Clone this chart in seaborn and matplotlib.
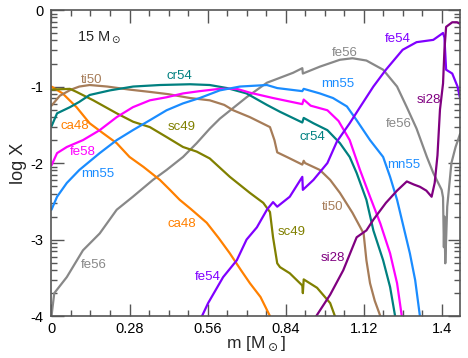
import numpy as np
import pandas as pd
import matplotlib
matplotlib.use("Agg")
import matplotlib.pyplot as plt
import seaborn as sns
from matplotlib.ticker import FixedLocator, MultipleLocator

# mass coordinate (Msun) and log mass fraction for each isotope
ca48_m = [0, 0.04, 0.09, 0.137, 0.185, 0.234, 0.28, 0.33, 0.389, 0.425, 0.46, 0.5, 0.557, 0.6, 0.64, 0.68, 0.712, 0.75, 0.784]
ca48_x = [-1.0, -1.09, -1.27, -1.48, -1.61, -1.74, -1.92, -2.05, -2.22, -2.35, -2.48, -2.6, -2.78, -2.98, -3.18, -3.4, -3.57, -3.75, -4.0]

ti50_m = [0, 0.03, 0.07, 0.1, 0.137, 0.2, 0.28, 0.353, 0.42, 0.497, 0.568, 0.62, 0.652, 0.712, 0.784, 0.8, 0.81, 0.85, 0.9, 0.905, 0.91, 0.963, 1.0, 1.035, 1.08, 1.12, 1.13, 1.143, 1.16, 1.18]
ti50_x = [-1.25, -1.12, -1.04, -1.0, -0.98, -1.0, -1.04, -1.07, -1.1, -1.15, -1.18, -1.24, -1.31, -1.4, -1.53, -1.7, -1.86, -1.93, -2.02, -1.97, -2.0, -2.09, -2.22, -2.39, -2.65, -2.92, -3.27, -3.57, -3.8, -4.0]

cr54_m = [0, 0.02, 0.066, 0.1, 0.137, 0.21, 0.293, 0.389, 0.497, 0.568, 0.63, 0.70, 0.773, 0.82, 0.9, 0.905, 0.94, 0.99, 1.035, 1.07, 1.095, 1.13, 1.155, 1.19, 1.215, 1.233]
cr54_x = [-1.52, -1.35, -1.27, -1.2, -1.11, -1.05, -1.0, -0.98, -0.97, -0.98, -1.02, -1.09, -1.24, -1.33, -1.47, -1.41, -1.48, -1.57, -1.74, -1.92, -2.13, -2.48, -2.88, -3.27, -3.62, -4.0]

fe58_m = [0, 0.02, 0.055, 0.113, 0.173, 0.234, 0.292, 0.353, 0.413, 0.472, 0.532, 0.604, 0.665, 0.712, 0.795, 0.9, 0.905, 0.93, 0.99, 1.03, 1.07, 1.107, 1.143, 1.18, 1.215, 1.24, 1.257]
fe58_x = [-2.03, -1.87, -1.79, -1.7, -1.57, -1.4, -1.27, -1.18, -1.14, -1.09, -1.06, -1.03, -1.03, -1.08, -1.15, -1.23, -1.17, -1.25, -1.31, -1.45, -1.7, -2.09, -2.44, -2.79, -3.18, -3.57, -4.0]

mn55_m = [0, 0.02, 0.055, 0.1, 0.173, 0.234, 0.292, 0.353, 0.413, 0.472, 0.532, 0.604, 0.676, 0.773, 0.81, 0.9, 0.905, 0.963, 1.01, 1.06, 1.095, 1.143, 1.19, 1.215, 1.24, 1.263, 1.286, 1.305, 1.322]
mn55_x = [-2.61, -2.44, -2.26, -2.09, -1.87, -1.7, -1.57, -1.44, -1.31, -1.22, -1.15, -1.05, -1.0, -0.98, -1.02, -1.06, -1.03, -1.09, -1.15, -1.26, -1.44, -1.7, -1.92, -2.18, -2.48, -2.83, -3.18, -3.53, -4.0]

sc49_m = [0, 0.066, 0.09, 0.15, 0.234, 0.293, 0.353, 0.413, 0.472, 0.521, 0.568, 0.64, 0.712, 0.76, 0.784, 0.795, 0.81, 0.82, 0.855, 0.9, 0.902, 0.905, 0.953, 1.0, 1.017]
sc49_x = [-1.04, -1.03, -1.07, -1.18, -1.35, -1.46, -1.53, -1.66, -1.79, -1.85, -1.94, -2.18, -2.39, -2.52, -2.64, -2.97, -3.31, -3.36, -3.44, -3.6, -3.7, -3.52, -3.63, -3.83, -4.0]

fe54_m = [0.54, 0.562, 0.616, 0.665, 0.70, 0.737, 0.773, 0.795, 0.81, 0.855, 0.9, 0.902, 0.94, 0.99, 1.024, 1.07, 1.107, 1.155, 1.2, 1.26, 1.31, 1.37, 1.405, 1.41, 1.416, 1.438, 1.457, 1.466]
fe54_x = [-4.0, -3.83, -3.49, -3.27, -3.0, -2.84, -2.61, -2.51, -2.57, -2.44, -2.18, -2.35, -2.22, -2.0, -1.72, -1.48, -1.27, -1.0, -0.78, -0.52, -0.42, -0.39, -0.3, -0.36, -0.78, -0.83, -1.0, -1.15]

si28_m = [0.95, 1.0, 1.047, 1.095, 1.13, 1.155, 1.2, 1.24, 1.275, 1.3, 1.322, 1.345, 1.364, 1.375, 1.385, 1.394, 1.405, 1.41, 1.416, 1.438, 1.455, 1.466]
si28_x = [-4.0, -3.72, -3.4, -2.97, -2.88, -2.74, -2.52, -2.36, -2.24, -2.28, -2.31, -2.36, -2.44, -2.26, -1.9, -1.3, -0.96, -0.52, -0.22, -0.16, -0.16, -0.18]

fe56_m = [0, 0.01, 0.055, 0.113, 0.173, 0.234, 0.292, 0.364, 0.413, 0.472, 0.521, 0.568, 0.604, 0.70, 0.773, 0.795, 0.867, 0.9, 0.902, 0.963, 1.035, 1.08, 1.13, 1.19, 1.24, 1.275, 1.31, 1.347, 1.37, 1.40, 1.405, 1.408, 1.41, 1.413, 1.416, 1.42, 1.435, 1.45, 1.466]
fe56_x = [-4.0, -3.7, -3.49, -3.14, -2.92, -2.61, -2.44, -2.22, -2.09, -1.92, -1.74, -1.55, -1.42, -1.14, -0.95, -0.92, -0.82, -0.76, -0.83, -0.74, -0.65, -0.63, -0.66, -0.78, -1.0, -1.27, -1.55, -1.92, -2.13, -2.35, -2.45, -3.1, -2.7, -3.31, -3.0, -2.57, -2.0, -1.79, -1.62]

colors = {
    "ca48": "#ff8000", "ti50": "#a67c58", "cr54": "#008080", "fe58": "#ff00ff",
    "mn55": "#1a8cff", "sc49": "#808000", "fe54": "#8000ff", "si28": "#800080",
    "fe56": "#888888",
}

series = {
    "fe56": (fe56_m, fe56_x), "ca48": (ca48_m, ca48_x), "ti50": (ti50_m, ti50_x),
    "sc49": (sc49_m, sc49_x), "cr54": (cr54_m, cr54_x), "fe58": (fe58_m, fe58_x),
    "mn55": (mn55_m, mn55_x), "fe54": (fe54_m, fe54_x), "si28": (si28_m, si28_x),
}
df = pd.concat(
    [pd.DataFrame({"m": m, "logX": x, "iso": k}) for k, (m, x) in series.items()],
    ignore_index=True,
)

# labels: (name, m, logX)
labels = [
    ("ti50", 0.145, -0.92), ("cr54", 0.46, -0.86), ("ca48", 0.084, -1.52),
    ("sc49", 0.467, -1.53), ("fe58", 0.113, -1.85), ("mn55", 0.167, -2.14),
    ("ca48", 0.467, -2.8), ("fe56", 0.153, -3.33), ("fe54", 0.562, -3.49),
    ("sc49", 0.863, -2.9), ("ti50", 1.01, -2.57), ("si28", 1.01, -3.24),
    ("fe56", 1.053, -0.56), ("mn55", 1.028, -0.97), ("cr54", 0.935, -1.66),
    ("fe54", 1.243, -0.38), ("si28", 1.354, -1.17), ("fe56", 1.247, -1.49),
    ("mn55", 1.265, -2.03),
]

sns.set_theme(style="ticks")
plt.rcParams["font.family"] = ["Liberation Sans", "DejaVu Sans"]
plt.rcParams["axes.unicode_minus"] = False

fig = plt.figure(figsize=(4.68, 3.58), dpi=100)
ax = fig.add_axes([0.110, 0.117, 0.873, 0.855])

sns.lineplot(data=df, x="m", y="logX", hue="iso", palette=colors,
             estimator=None, sort=False, linewidth=1.6, legend=False, ax=ax)

for name, xm, yl in labels:
    ax.text(xm, yl, name, color=colors[name], fontsize=9.5, ha="center", va="center")
ax.text(0.09, -0.35, r"15 M$_\odot$", fontsize=10.5, ha="left", va="center")

ax.set_xlim(0, 1.466)
ax.set_ylim(-4, 0)
ax.xaxis.set_major_locator(FixedLocator([0, 0.28, 0.56, 0.84, 1.12, 1.4]))
ax.set_xticklabels(["0", "0.28", "0.56", "0.84", "1.12", "1.4"])
ax.xaxis.set_minor_locator(MultipleLocator(0.07))
ax.yaxis.set_major_locator(FixedLocator([-4, -3, -2, -1, 0]))
ax.set_yticklabels(["-4", "-3", "-2", "-1", "0"])
minor_y = [n + np.log10(k) for n in range(-4, 0) for k in range(2, 10)]
ax.yaxis.set_minor_locator(FixedLocator(minor_y))

frame = "#555555"
for sp in ax.spines.values():
    sp.set_color(frame)
    sp.set_linewidth(1.2)
ax.tick_params(which="both", direction="in", top=True, right=True,
               color=frame, labelsize=10.5, labelcolor="black")
ax.tick_params(axis="x", which="major", length=9, width=1.0, pad=4)
ax.tick_params(axis="y", which="major", length=9, width=1.0, pad=6)
ax.tick_params(which="minor", length=4.5, width=1.0)

ax.set_xlabel(r"m [M$_\odot$]", fontsize=12.5, labelpad=-1)
ax.set_ylabel("log X", fontsize=13, labelpad=2)

fig.savefig("out.png", dpi=100)
